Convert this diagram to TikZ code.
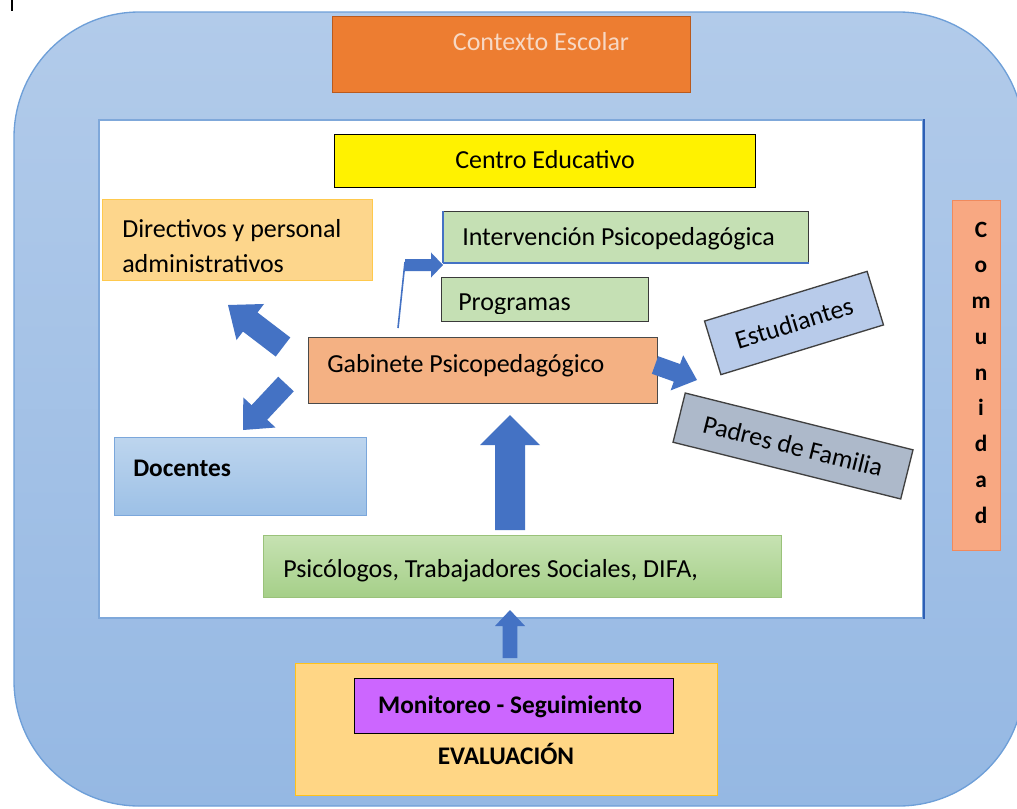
\documentclass[tikz,border=0pt]{standalone}
\usepackage{fontspec}
\setmainfont{Carlito}
\usetikzlibrary{calc}
\definecolor{outertop}{HTML}{B2CBEA}
\definecolor{outerbot}{HTML}{95B8E3}
\definecolor{outerline}{HTML}{6E9FD8}
\definecolor{ctxorange}{HTML}{ED7D31}
\definecolor{ctxline}{HTML}{B95A1E}
\definecolor{ctxtext}{HTML}{F7D8C4}
\definecolor{innerline}{HTML}{7FA8DA}
\definecolor{innerdark}{HTML}{2E5FB5}
\definecolor{dirfill}{HTML}{FDD68C}
\definecolor{dirline}{HTML}{FFC94D}
\definecolor{greenfill}{HTML}{C5E0B4}
\definecolor{greenline}{HTML}{3A3A3A}
\definecolor{gabfill}{HTML}{F4B183}
\definecolor{gabline}{HTML}{4A4A4A}
\definecolor{estfill}{HTML}{B8CBEA}
\definecolor{padfill}{HTML}{ADB9CA}
\definecolor{rotline}{HTML}{404040}
\definecolor{doctop}{HTML}{BDD5EE}
\definecolor{docbot}{HTML}{9CC0E6}
\definecolor{docline}{HTML}{7BA7DB}
\definecolor{psitop}{HTML}{C6E2B2}
\definecolor{psibot}{HTML}{A5CF88}
\definecolor{psiline}{HTML}{9AC27A}
\definecolor{comfill}{HTML}{F8A882}
\definecolor{comline}{HTML}{F08A5D}
\definecolor{evalfill}{HTML}{FFD685}
\definecolor{evalline}{HTML}{FFC21A}
\definecolor{monfill}{HTML}{CC66FF}
\definecolor{arrowblue}{HTML}{4472C4}
\newcommand{\rbox}[6]{%
  \pgfmathsetmacro{\bw}{(#5-#3)*0.75}%
  \pgfmathsetmacro{\bh}{(#6-#4)*0.75}%
  \node[#2, anchor=north west, minimum width=\bw pt, minimum height=\bh pt, inner sep=0pt] (#1) at (#3,#4) {};}
\newcommand{\barrow}[5]{%
  \coordinate (hb) at ($(#2)!#5!(#1)$);
  \fill[arrowblue] ($(#1)!#3!90:(#2)$) -- ($(hb)!#3!-90:(#1)$) -- ($(hb)!#4!-90:(#1)$) -- (#2)
    -- ($(hb)!#4!90:(#1)$) -- ($(hb)!#3!90:(#1)$) -- ($(#1)!#3!-90:(#2)$) -- cycle;}
\tikzset{
  txt/.style={font=\fontsize{19.5}{23}\selectfont, inner sep=0pt},
  btxt/.style={font=\bfseries\fontsize{19}{23}\selectfont, inner sep=0pt},
  comtxt/.style={font=\bfseries\fontsize{17.5}{20}\selectfont, inner sep=0pt},
  bline/.style={line width=0.9pt},
}
\begin{document}
\begin{tikzpicture}[x=0.75pt,y=-0.75pt]
\useasboundingbox (0,0) rectangle (1017,808);
% outer community frame
\path[draw=outerline, line width=1pt, top color=outertop, bottom color=outerbot, rounded corners=94pt] (14,12) rectangle (1024,806);
\draw[black, line width=1pt] (12,0) -- (12,11);
% Contexto Escolar
\rbox{ctx}{fill=ctxorange, draw=ctxline, bline}{332}{16}{690}{92}
\node[txt, text=ctxtext, anchor=base] (ctxt) at (541,50) {Contexto Escolar};
% inner white area
\rbox{inner}{fill=white, draw=innerline, line width=1.2pt}{98}{119}{922}{617}
\draw[innerdark, line width=1.5pt] (inner.north east) -- (inner.south east);
% Centro Educativo
\rbox{ce}{fill=yellow, draw=black, bline}{334}{134}{755}{187}
\node[txt, anchor=base] (cet) at (545,168) {Centro Educativo};
% Directivos
\rbox{dir}{fill=dirfill, draw=dirline, bline}{102}{199}{372}{280}
\node[txt, anchor=base west] (dirt1) at (122,237) {Directivos y personal};
\node[txt, anchor=base west] (dirt2) at (122,272) {administrativos};
% Intervencion
\rbox{int}{fill=greenfill, draw=greenline, bline}{443}{211}{808}{262}
\draw[arrowblue, line width=1.2pt] (int.south west) -- (int.south east);
\draw[arrowblue, line width=1.2pt] (int.south west) -- (int.north west);
\node[txt, anchor=base west] (intt) at (462,245) {Intervención Psicopedagógica};
% Programas
\rbox{prog}{fill=greenfill, draw=greenline, bline}{441}{277}{648}{321}
\begin{scope}
\clip (441,277) rectangle (648,313);
\node[txt, anchor=base west] (progt) at (458,310) {Programas};
\end{scope}
% Gabinete
\rbox{gab}{fill=gabfill, draw=gabline, bline}{308}{337}{657}{403}
\node[txt, anchor=base west] (gabt) at (327,372) {Gabinete Psicopedagógico};
% Docentes
\rbox{doc}{top color=doctop, bottom color=docbot, draw=docline, bline}{114}{437}{366}{515}
\node[btxt, anchor=base west] (doct) at (133,476) {Docentes};
% Psicologos
\rbox{psi}{top color=psitop, bottom color=psibot, draw=psiline, bline}{263}{535}{781}{597}
\node[txt, anchor=base west] (psit) at (283,577) {Psicólogos, Trabajadores Sociales, DIFA,};
% Estudiantes / Padres
\node[txt, draw=rotline, fill=estfill, line width=1pt, rotate=17, minimum width=127.5pt, minimum height=42pt] (est) at (794,323) {Estudiantes};
\node[txt, draw=rotline, fill=padfill, line width=1pt, rotate=-14, minimum width=176pt, minimum height=38pt] (pad) at (793,446) {Padres de Familia};
% Comunidad
\rbox{com}{fill=comfill, draw=comline, bline}{952}{200}{1000}{550}
\foreach \l [count=\i from 0] in {C,o,m,u,n,i,d,a,d}
  \node[comtxt, anchor=base] (c\i) at (981,{237+\i*35.75}) {\l};
% Evaluacion
\rbox{eval}{fill=evalfill, draw=evalline, bline}{295}{663}{717}{795}
\rbox{mon}{fill=monfill, draw=black, line width=1.1pt}{354}{678}{673}{733}
\node[btxt, anchor=base] (mont) at (510,713) {Monitoreo - Seguimiento};
\node[btxt, anchor=base] (evt) at (506,764) {EVALUACIÓN};
% block arrows
\coordinate (a1s) at (283,347); \coordinate (a1e) at (228,305);
\barrow{a1s}{a1e}{9pt}{17pt}{21pt}
\coordinate (a2s) at (286,384); \coordinate (a2e) at (243,430);
\barrow{a2s}{a2e}{8pt}{16.5pt}{18pt}
\coordinate (a3s) at (655,365); \coordinate (a3e) at (697,380);
\barrow{a3s}{a3e}{7pt}{14pt}{16pt}
\coordinate (a4s) at (510,530); \coordinate (a4e) at (510,415);
\barrow{a4s}{a4e}{11.25pt}{22.5pt}{22.5pt}
\coordinate (a5s) at (510,658); \coordinate (a5e) at (510,610);
\barrow{a5s}{a5e}{5.6pt}{11.25pt}{12pt}
\coordinate (a6s) at (405,265); \coordinate (a6e) at (443,265);
\barrow{a6s}{a6e}{4.5pt}{9.4pt}{9pt}
\coordinate (l1) at (398,328); \coordinate (l2) at (405,262);
\draw[arrowblue, line width=1.2pt] (l1) -- (l2);
\end{tikzpicture}
\end{document}
